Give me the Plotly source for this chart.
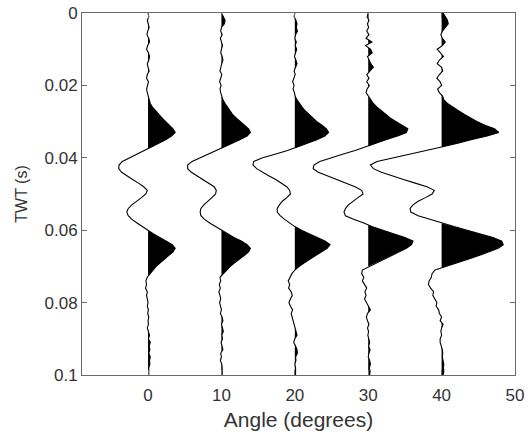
import plotly.graph_objects as go

# Two-way time samples (s)
twt = [round(i * 0.001, 3) for i in range(101)]

# Trace baseline positions (angle, degrees)
angles = [0, 10, 20, 30, 40]

# Trace amplitudes (in degrees of horizontal deflection), one value per TWT sample
amp_0 = [0.0, 0.1, -0.1, 0.05, 0.15, -0.05, -0.15, 0.1, 0.2, -0.05,
         -0.2, 0.05, 0.2, 0.1, -0.1, 0.0, 0.15, -0.1, -0.2, 0.05,
         -0.1, -0.2, -0.1, 0.0, 0.1, 0.3, 0.6, 1.0, 1.4, 1.9,
         2.4, 2.9, 3.4, 3.7, 3.2, 2.4, 1.4, 0.5, -0.4, -1.5,
         -2.6, -3.5, -3.95, -4.0, -3.6, -2.9, -2.1, -1.3, -0.6, -0.1,
         -0.3, -0.9, -1.6, -2.2, -2.7, -2.9, -2.7, -2.2, -1.5, -0.8,
         -0.1, 0.7, 1.6, 2.5, 3.3, 3.7, 3.4, 2.8, 2.2, 1.6,
         1.1, 0.7, 0.3, -0.1, -0.3, -0.2, -0.35, -0.1, -0.2, -0.1,
         0.0, -0.1, 0.05, -0.05, 0.1, 0.0, 0.05, -0.1, 0.1, 0.2,
         0.05, 0.3, 0.15, 0.25, 0.1, 0.3, 0.2, 0.25, 0.1, 0.15,
         0.1]

amp_10 = [0.0, 0.2, 0.5, 0.4, 0.0, -0.1, 0.1, -0.15, -0.05, 0.15,
          0.0, -0.1, 0.1, 0.2, 0.05, -0.1, -0.2, 0.05, -0.15, -0.25,
          -0.05, -0.2, -0.1, 0.0, 0.2, 0.5, 0.8, 1.1, 1.5, 2.0,
          2.6, 3.2, 3.7, 3.95, 3.5, 2.5, 1.4, 0.4, -0.6, -1.8,
          -3.0, -4.0, -4.6, -4.6, -4.1, -3.3, -2.5, -1.7, -1.0, -0.7,
          -0.8, -1.3, -1.9, -2.4, -2.8, -2.9, -2.8, -2.3, -1.6, -0.8,
          0.0, 0.8, 1.7, 2.7, 3.5, 3.95, 3.7, 3.1, 2.4, 1.8,
          1.2, 0.7, 0.2, -0.2, -0.1, -0.3, -0.15, -0.35, -0.2, -0.1,
          -0.25, -0.1, 0.0, -0.15, 0.1, 0.2, 0.0, 0.15, 0.25, 0.05,
          0.15, -0.05, 0.1, 0.2, -0.1, 0.0, -0.15, 0.05, 0.1, 0.05,
          0.1]

amp_20 = [0.0, -0.1, 0.15, 0.3, 0.2, 0.35, 0.1, 0.0, 0.2, 0.05,
          0.25, 0.1, -0.05, 0.15, 0.3, 0.1, -0.1, 0.05, -0.15, -0.3,
          -0.1, -0.25, -0.05, 0.05, 0.3, 0.6, 1.0, 1.4, 1.9, 2.4,
          3.0, 3.7, 4.3, 4.6, 4.1, 3.0, 1.7, 0.5, -1.0, -2.7,
          -4.4, -5.6, -5.7, -5.2, -4.4, -3.5, -2.6, -1.8, -1.1, -0.7,
          -0.6, -1.1, -1.7, -2.1, -2.4, -2.4, -2.0, -1.4, -0.7, 0.0,
          0.9, 1.9, 3.0, 4.1, 4.8, 4.4, 3.6, 2.8, 2.0, 1.3,
          0.6, 0.0, -0.4, -0.6, -0.9, -0.7, -0.85, -0.5, -0.35, -0.6,
          -0.8, -0.6, -0.3, -0.5, -0.35, -0.2, -0.15, 0.0, 0.2, 0.3,
          0.0, -0.15, 0.1, 0.3, 0.35, 0.1, 0.15, 0.0, 0.1, 0.05,
          0.1]

amp_30 = [0.0, -0.15, 0.1, -0.1, 0.05, -0.2, 0.1, -0.3, 0.5, -0.35,
          0.3, 0.55, -0.1, 0.1, 0.35, 0.7, 0.2, -0.2, 0.1, -0.2,
          0.15, -0.15, -0.3, 0.0, 0.3, 0.7, 1.2, 1.8, 2.4, 3.0,
          3.8, 4.6, 5.4, 5.2, 4.0, 2.4, 1.0, -0.2, -1.8, -3.5,
          -5.2, -6.6, -7.4, -7.5, -6.8, -5.6, -4.3, -3.0, -1.8, -0.9,
          -0.7, -1.4, -2.1, -2.7, -3.1, -3.3, -3.1, -2.0, -0.6, 0.5,
          2.0, 3.5, 5.0, 6.1, 5.9, 5.2, 4.2, 3.2, 2.1, 1.1,
          0.0, -0.8, -0.9, -0.6, -0.8, -0.5, -0.2, -0.45, -0.3, -0.5,
          -0.2, 0.1, 0.3, -0.1, -0.25, -0.1, 0.1, -0.1, 0.05, -0.05,
          0.1, 0.2, 0.05, 0.25, 0.1, 0.0, 0.2, 0.3, 0.15, 0.25,
          0.2]

amp_40 = [0.2, 0.5, 0.8, 0.9, 0.5, 0.1, -0.1, 0.1, 0.5, 0.1,
          -0.6, -0.2, 0.25, -0.3, -0.6, 0.0, 0.15, -0.3, -0.65, -0.2,
          0.0, -0.55, -0.3, 0.15, 0.3, 0.8, 1.5, 2.3, 3.1, 3.9,
          4.8, 5.9, 7.2, 7.8, 6.2, 4.0, 2.2, 0.0, -2.2, -4.8,
          -7.0, -8.8, -9.7, -9.3, -8.2, -6.8, -5.2, -3.6, -2.0, -1.0,
          -1.3, -2.2, -3.2, -3.9, -4.3, -4.2, -3.2, -1.6, -0.1, 1.7,
          3.5, 5.3, 7.0, 8.2, 8.4, 7.7, 6.5, 5.1, 3.6, 2.2,
          0.5, -0.9, -1.3, -1.4, -1.7, -1.8, -1.5, -1.1, -1.2, -0.9,
          -0.65, -0.75, -0.4, -0.3, 0.0, -0.2, 0.2, 0.0, -0.1, 0.0,
          -0.2, -0.2, 0.0, 0.1, 0.15, 0.1, 0.2, 0.3, 0.25, 0.3,
          0.2]

amps = [amp_0, amp_10, amp_20, amp_30, amp_40]

x_ticks = [0, 10, 20, 30, 40, 50]
y_ticks = [0, 0.02, 0.04, 0.06, 0.08, 0.1]
y_tick_text = ["0", "0.02", "0.04", "0.06", "0.08", "0.1"]


def positive_lobes(base, amp):
    """Closed polygons of every positive lobe, separated by None."""
    xs, ys = [], []
    cur_x, cur_y = None, None
    n = len(twt)
    for i in range(n):
        a = amp[i]
        t = twt[i]
        if i > 0:
            a0 = amp[i - 1]
            if (a0 > 0) != (a > 0) and a0 != a:
                tc = twt[i - 1] + a0 / (a0 - a) * (t - twt[i - 1])
                if a > 0:  # entering lobe
                    cur_x, cur_y = [base], [tc]
                else:      # leaving lobe
                    cur_x.append(base)
                    cur_y.append(tc)
                    xs += cur_x + [cur_x[0], None]
                    ys += cur_y + [cur_y[0], None]
                    cur_x, cur_y = None, None
        if a > 0:
            if cur_x is None:
                cur_x, cur_y = [base], [t]
            cur_x.append(base + a)
            cur_y.append(t)
    if cur_x is not None:
        cur_x.append(base)
        cur_y.append(twt[-1])
        xs += cur_x + [cur_x[0], None]
        ys += cur_y + [cur_y[0], None]
    return xs, ys


fig = go.Figure()

for ang, amp in zip(angles, amps):
    fx, fy = positive_lobes(ang, amp)
    fig.add_trace(go.Scatter(x=fx, y=fy, mode="lines", fill="toself",
                             fillcolor="black", line=dict(width=0, color="black"),
                             hoverinfo="skip", showlegend=False))
    fig.add_trace(go.Scatter(x=[ang + a for a in amp], y=twt, mode="lines",
                             line=dict(color="black", width=1.1),
                             showlegend=False))

axis_common = dict(showline=True, linecolor="#6a6a6a", linewidth=1, mirror="ticks",
                   ticks="inside", ticklen=5, tickcolor="#6a6a6a", showgrid=False,
                   zeroline=False, automargin=False,
                   tickfont=dict(size=17, color="#333333"))

fig.update_layout(
    width=529, height=438,
    margin=dict(l=82, r=14, t=13, b=63),
    paper_bgcolor="white", plot_bgcolor="white",
    font=dict(family="Liberation Sans, Arial, sans-serif", color="#333333"),
    xaxis=dict(range=[-9, 50], tickvals=x_ticks, ticktext=[str(v) for v in x_ticks],
               ticklabelstandoff=5,
               title=dict(text="Angle (degrees)", font=dict(size=21), standoff=7),
               **axis_common),
    yaxis=dict(range=[0.1, 0], tickvals=y_ticks, ticktext=y_tick_text,
               title=dict(text="TWT (s)", font=dict(size=16), standoff=12),
               **axis_common),
)

# Remove the default page margin so the figure fills the window exactly.
fig.write_html("out.html",
               config={"displayModeBar": False},
               post_script="document.body.style.margin='0px';"
                           "document.body.style.overflow='hidden';")
